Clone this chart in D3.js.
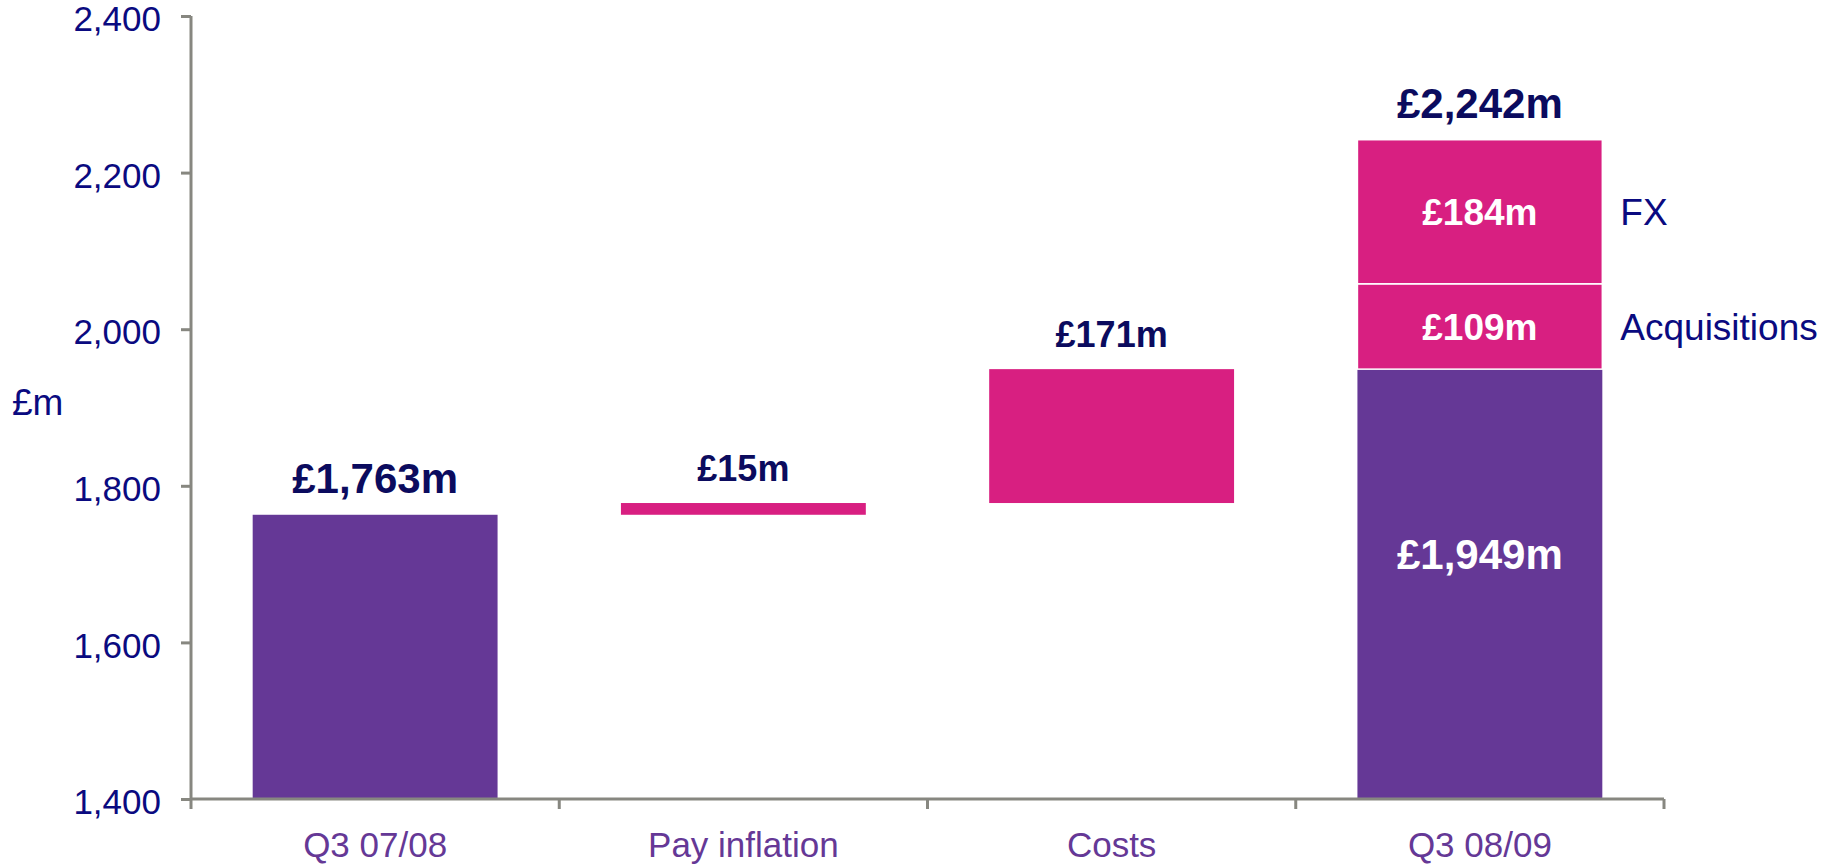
<!DOCTYPE html>
<html lang="en">
  <head>
    <meta charset="utf-8">
    <title>Cost bridge</title>
    <style>
      body { margin: 0; background: #fff; }
      svg text { font-family: "Liberation Sans", Arial, sans-serif; }
    </style>
  </head>
  <body>
    <svg id="chart" width="1836" height="867"></svg>
  <script src="https://d3js.org/d3.v7.min.js"></script>
  <script>
    // values, £m
    const categories = ["Q3 07/08", "Pay inflation", "Costs", "Q3 08/09"]
    const openingTotal = 1763
    const changes = [15, 171]              // pay inflation, costs
    const closingBase = 1949
    const closingAdds = [109, 184]         // acquisitions, fx
    const closingAddNames = ["Acquisitions", "FX"]
    const closingTotal = 2242
    const yTicks = [1400, 1600, 1800, 2000, 2200, 2400]

    const purple = "#653896", pink = "#d81f81", navy = "#0a0a80", darkNavy = "#0b0b5e", axisGrey = "#878780"

    let svg = d3.select("#chart")

    let y = d3.scaleLinear().domain([1400, 2400]).range([799, 16])
    let x = d3.scaleBand().domain(categories).range([191, 1664]).paddingInner(0.335).paddingOuter(0.1675)

    // build the waterfall segments
    let segs = []
    segs.push({cat: categories[0], from: 1400, to: openingTotal, fill: purple})
    let run = openingTotal
    changes.forEach((c, i) => {
      segs.push({cat: categories[i + 1], from: run, to: run + c, fill: pink, top: "£" + c + "m"})
      run += c
    })
    segs.push({cat: categories[3], from: 1400, to: closingBase, fill: purple, inside: "£" + d3.format(",")(closingBase) + "m"})
    let acc = closingBase
    closingAdds.forEach((c, i) => {
      segs.push({cat: categories[3], from: acc, to: acc + c, fill: pink, inside: "£" + c + "m", side: closingAddNames[i]})
      acc += c
    })

    svg.selectAll("rect.seg").data(segs).enter()
      .append("rect")
      .attr("class", "seg")
      .attr("x", d => x(d.cat))
      .attr("width", x.bandwidth())
      .attr("y", d => y(d.to))
      .attr("height", d => y(d.from) - y(d.to))
      .style("fill", d => d.fill)
      .style("stroke", d => d.side ? "#fff" : "none")
      .style("stroke-width", 1.5)

    // labels above bars
    let topLabels = [
      {cat: categories[0], v: openingTotal, text: "£" + d3.format(",")(openingTotal) + "m", size: 42},
      {cat: categories[1], v: openingTotal + changes[0], text: "£" + changes[0] + "m", size: 36},
      {cat: categories[2], v: openingTotal + changes[0] + changes[1], text: "£" + changes[1] + "m", size: 36},
      {cat: categories[3], v: closingTotal, text: "£" + d3.format(",")(closingTotal) + "m", size: 42}
    ]
    svg.selectAll("text.top").data(topLabels).enter()
      .append("text")
      .attr("x", d => x(d.cat) + x.bandwidth() / 2)
      .attr("y", d => y(d.v) - 22)
      .attr("text-anchor", "middle")
      .style("font-size", d => d.size + "px")
      .style("font-weight", "bold")
      .style("fill", darkNavy)
      .text(d => d.text)

    // labels inside the closing bar
    let inner = segs.filter(d => d.inside)
    svg.selectAll("text.inner").data(inner).enter()
      .append("text")
      .attr("x", d => x(d.cat) + x.bandwidth() / 2)
      .attr("y", d => d.side ? y((d.from + d.to) / 2) : y(d.from + (d.to - d.from) * 0.57))
      .attr("dy", "0.36em")
      .attr("text-anchor", "middle")
      .style("font-size", d => d.side ? "37px" : "42px")
      .style("font-weight", "bold")
      .style("fill", "#fff")
      .text(d => d.inside)

    svg.selectAll("text.side").data(inner.filter(d => d.side)).enter()
      .append("text")
      .attr("x", d => x(d.cat) + x.bandwidth() + 18)
      .attr("y", d => y((d.from + d.to) / 2))
      .attr("dy", "0.36em")
      .style("font-size", "37px")
      .style("fill", navy)
      .text(d => d.side)

    // axes
    let yAxis = d3.axisLeft(y).tickValues(yTicks).tickFormat(d3.format(",")).tickSize(10).tickPadding(20)
    let gy = svg.append("g").attr("transform", "translate(191,0)").call(yAxis)
    gy.select(".domain").attr("d", "M0," + y(2400) + "V" + (y(1400) + 10)).style("stroke", axisGrey).style("stroke-width", 3)
    gy.selectAll(".tick line").style("stroke", axisGrey).style("stroke-width", 3)
    gy.selectAll(".tick text").style("font-size", "35px").style("fill", navy).attr("font-family", null).attr("dy", "0.42em")

    let xAxis = d3.axisBottom(x).tickSize(0).tickPadding(33)
    let gx = svg.append("g").attr("transform", "translate(0," + y(1400) + ")").call(xAxis)
    gx.select(".domain").attr("d", "M191,0H1664").style("stroke", axisGrey).style("stroke-width", 3)
    gx.selectAll(".tick text").style("font-size", "35px").style("fill", purple).attr("font-family", null)

    let bounds = d3.range(1, categories.length + 1).map(i => x.range()[0] + i * x.step())
    gx.selectAll("line.bound").data(bounds).enter()
      .append("line")
      .attr("x1", d => d).attr("x2", d => d)
      .attr("y1", 0).attr("y2", 10)
      .style("stroke", axisGrey).style("stroke-width", 3)

    svg.append("text")
      .attr("x", 12).attr("y", 402).attr("dy", "0.36em")
      .style("font-size", "37px").style("fill", navy)
      .text("£m")
  </script>
  </body>
</html>
